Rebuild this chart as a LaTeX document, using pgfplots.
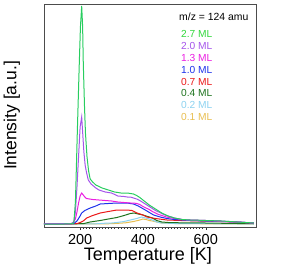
\documentclass[border=0pt]{standalone}
\usepackage{pgfplots}
\pgfplotsset{compat=1.18}
\usepackage{fontspec}
\setmainfont{Liberation Sans}
\definecolor{cG}{RGB}{40,205,95}
\definecolor{cGt}{RGB}{50,215,60}
\definecolor{cP}{RGB}{165,85,235}
\definecolor{cM}{RGB}{235,30,225}
\definecolor{cB}{RGB}{30,50,235}
\definecolor{cR}{RGB}{235,25,25}
\definecolor{cDG}{RGB}{30,115,30}
\definecolor{cLB}{RGB}{140,210,240}
\definecolor{cY}{RGB}{232,190,80}
\begin{document}
\begin{tikzpicture}
\begin{axis}[
  name=ax,
  scale only axis, width=212pt, height=223pt,
  xmin=85, xmax=760, ymin=0, ymax=223,
  axis line style={black!70, line width=0.8pt},
  xtick={200,400,600}, minor x tick num=19,
  ytick=\empty,
  tick align=outside, xtick pos=bottom,
  major tick length=3pt, minor tick length=2pt,
  tick style={black!80, line width=0.4pt},
  /pgf/number format/assume math mode=true,
  xticklabel style={font=\fontsize{14.5}{16}\selectfont, yshift=-1pt},
  xlabel={Temperature [K]},
  ylabel={Intensity [a.u.]},
  xlabel style={font=\fontsize{18}{20}\selectfont, at={(axis description cs:0.49,-0.13)}, anchor=center},
  ylabel style={font=\fontsize{17.5}{20}\selectfont, at={(axis description cs:-0.152,0.5)}, anchor=center, rotate=0},
  every axis plot/.append style={line width=1pt, no markers},
  clip=true,
]
\addplot[cY] coordinates {(85,3)(280,3.1)(317,3.6)(345,4.2)(370,5.5)(390,7)(400,8)(410,7.5)(420,6.5)(430,6)(444,5)(460,4)(500,3.5)(600,3.2)(753,3)};
\addplot[cLB] coordinates {(85,3)(250,3.2)(280,3.8)(300,4)(317,4.5)(340,5.5)(360,7)(380,8.5)(395,10)(402,9.5)(415,8.5)(430,7)(444,5)(460,4)(500,3.5)(600,3.3)(753,3)};
\addplot[cDG] coordinates {(85,3)(210,3.3)(232,5)(264,6.5)(290,8)(317,9.5)(340,11.5)(360,13.5)(372,14)(385,13)(400,12)(415,10.5)(430,9)(444,6.5)(460,5)(480,4.5)(520,4.2)(600,4)(700,3.5)(753,3.5)};
\addplot[cR] coordinates {(85,3)(190,3.3)(200,4.5)(210,6)(221,9)(240,11.5)(264,14)(290,15.5)(317,17)(349,17)(365,16.5)(381,14)(400,12)(413,10)(440,8.5)(476,7)(520,6.5)(583,6)(650,5.5)(689,5)(753,4)};
\addplot[cB] coordinates {(85,3)(180,3.5)(190,6)(200,11)(205,14)(215,16.5)(232,19)(250,21)(264,23)(290,23.5)(317,24)(349,24)(370,23)(385,21)(402,18)(418,15)(434,12)(455,10)(476,8.5)(500,7.5)(550,6.5)(600,6)(650,5.5)(700,5)(753,4)};
\addplot[cM] coordinates {(85,3)(175,3.3)(185,8)(190,15)(195,24)(200,31)(205,34)(210,32)(215,30)(220,28.5)(230,28)(240,27.5)(260,27)(280,26.5)(300,26)(320,25)(340,24.5)(360,24)(370,24)(380,23.5)(390,22.5)(400,20.5)(410,19)(420,17.5)(430,15.5)(440,14)(450,12.5)(460,11.5)(475,10)(500,8.5)(525,7.5)(550,7)(600,6.5)(650,5.5)(700,5)(753,4)};
\addplot[cP] coordinates {(85,3)(170,3.2)(180,5)(185,15)(190,40)(195,70)(200,100)(205,110)(208,95)(212,75)(216,62)(220,55)(226,47)(235,43)(250,39)(260,37)(270,36)(280,35)(300,34)(320,31)(340,30.5)(350,30)(360,30)(370,29)(380,28)(390,26.5)(400,24.5)(410,22.5)(420,20.5)(430,18.5)(440,16.5)(450,15)(460,13.5)(470,12)(480,11)(490,10)(500,9)(525,7.5)(550,7)(600,6.5)(650,6)(700,5)(753,4)};
\addplot[cG] coordinates {(85,3)(150,3)(170,3.2)(180,4)(185,25)(187,47)(191,94)(197,160)(201,200)(205,221)(208,200)(210,165)(214,120)(217,94)(222,70)(227,56)(232,48)(240,45)(250,42)(260,40.5)(270,39)(280,38)(290,37)(300,36)(310,35)(320,34.5)(330,34)(340,34)(350,34)(360,33.5)(370,33)(380,31.5)(390,29.5)(400,27)(410,24.5)(420,22)(430,20)(440,18)(450,16)(460,14)(470,12.5)(480,11)(490,10)(500,9)(525,7.5)(550,7)(575,6.8)(600,6.5)(650,6)(700,5)(753,4)};
\node[anchor=west, font=\fontsize{10.4}{12}\selectfont, inner sep=0pt] at (rel axis cs:0.637,0.942) {m/z = 124 amu};
\node[anchor=west, font=\fontsize{10.2}{12}\selectfont, inner sep=0pt, text=cGt] at (rel axis cs:0.646,0.865) {2.7 ML};
\node[anchor=west, font=\fontsize{10.2}{12}\selectfont, inner sep=0pt, text=cP] at (rel axis cs:0.646,0.812) {2.0 ML};
\node[anchor=west, font=\fontsize{10.2}{12}\selectfont, inner sep=0pt, text=cM] at (rel axis cs:0.646,0.759) {1.3 ML};
\node[anchor=west, font=\fontsize{10.2}{12}\selectfont, inner sep=0pt, text=cB] at (rel axis cs:0.646,0.705) {1.0 ML};
\node[anchor=west, font=\fontsize{10.2}{12}\selectfont, inner sep=0pt, text=cR] at (rel axis cs:0.646,0.652) {0.7 ML};
\node[anchor=west, font=\fontsize{10.2}{12}\selectfont, inner sep=0pt, text=cDG] at (rel axis cs:0.646,0.599) {0.4 ML};
\node[anchor=west, font=\fontsize{10.2}{12}\selectfont, inner sep=0pt, text=cLB] at (rel axis cs:0.646,0.546) {0.2 ML};
\node[anchor=west, font=\fontsize{10.2}{12}\selectfont, inner sep=0pt, text=cY] at (rel axis cs:0.646,0.493) {0.1 ML};
\end{axis}
\pgfresetboundingbox
\path ([shift={(-44pt,-40pt)}]ax.south west) rectangle ([shift={(32pt,4pt)}]ax.north east);
\end{tikzpicture}
\end{document}
